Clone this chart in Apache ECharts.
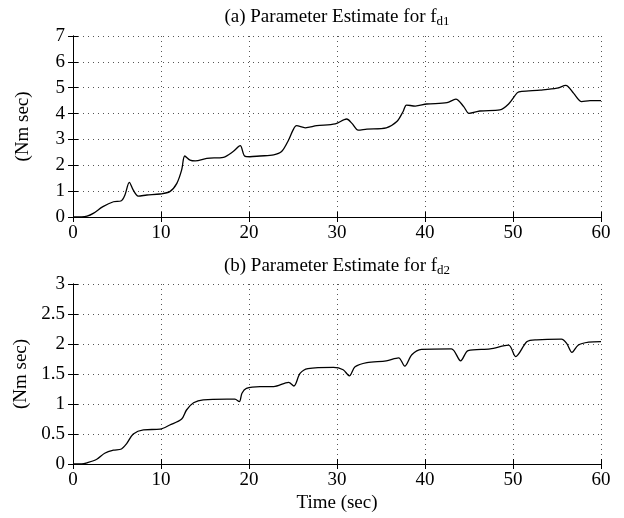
<!DOCTYPE html>
<html>
<head>
<meta charset="utf-8">
<script src="https://cdn.jsdelivr.net/npm/echarts@6/dist/echarts.min.js"></script>
<style>
html,body{margin:0;padding:0;background:#fff;}
#chart{width:624px;height:518px;}
</style>
</head>
<body>
<div id="chart"></div>
<script>
// ---- Data ----
const timeA = [0, 1.0, 1.6, 2.3, 3.4, 4.6, 5.5, 5.9, 6.4, 6.85, 7.4, 8.4, 9.9, 11.0, 11.8, 12.35, 12.7, 13.3, 13.9, 15.2, 17.1, 18.2, 19.0, 19.5, 20.1, 21.25, 22.8, 23.7, 24.5, 25.0, 25.4, 26.4, 27.7, 29.8, 31.1, 31.7, 32.4, 33.4, 35.6, 36.8, 37.5, 37.9, 38.9, 40.2, 42.5, 43.5, 44.4, 45.0, 46.25, 48.5, 49.5, 50.5, 51.0, 53.1, 55.0, 56.0, 56.9, 57.8, 58.75, 60];
const fd1 = [0, 0.0, 0.03, 0.14, 0.40, 0.59, 0.63, 0.85, 1.34, 1.04, 0.81, 0.85, 0.89, 0.98, 1.30, 1.82, 2.36, 2.20, 2.17, 2.27, 2.31, 2.53, 2.76, 2.36, 2.33, 2.36, 2.40, 2.53, 2.98, 3.36, 3.53, 3.45, 3.53, 3.60, 3.79, 3.62, 3.36, 3.40, 3.45, 3.69, 4.07, 4.33, 4.29, 4.37, 4.42, 4.56, 4.27, 4.01, 4.10, 4.14, 4.37, 4.81, 4.86, 4.91, 4.98, 5.09, 4.78, 4.46, 4.50, 4.50];
const timeB = [0, 1.0, 1.6, 2.7, 3.6, 4.6, 5.5, 6.1, 6.85, 8.0, 9.9, 11.0, 12.35, 12.9, 13.7, 14.8, 17.5, 18.4, 18.9, 19.2, 19.7, 21.25, 22.8, 24.5, 25.1, 25.8, 26.7, 29.6, 30.7, 31.4, 32.05, 33.4, 35.6, 37.0, 37.7, 38.5, 39.6, 43.0, 44.05, 44.9, 47.4, 49.5, 50.3, 51.6, 52.7, 55.5, 56.1, 56.7, 57.4, 58.6, 60];
const fd2 = [0, 0.0, 0.02, 0.08, 0.18, 0.23, 0.25, 0.34, 0.50, 0.57, 0.58, 0.65, 0.75, 0.90, 1.02, 1.07, 1.08, 1.08, 1.04, 1.18, 1.26, 1.29, 1.29, 1.36, 1.30, 1.51, 1.59, 1.61, 1.57, 1.47, 1.62, 1.69, 1.72, 1.77, 1.63, 1.82, 1.91, 1.92, 1.72, 1.89, 1.92, 1.98, 1.79, 2.04, 2.07, 2.08, 2.01, 1.86, 1.98, 2.03, 2.04];
const titleA = ['(a) Parameter Estimate for f', 'd1'];
const titleB = ['(b) Parameter Estimate for f', 'd2'];
const yName = '(Nm sec)';
const xName = 'Time (sec)';

const FONT = 'Liberation Serif';
const FS = 19;
const zip = (xs, ys) => xs.map((x, i) => [x, ys[i]]);

const gridLine = {show: true, lineStyle: {color: '#555', type: [1, 4], width: 1}};
const axisLine = {show: true, lineStyle: {color: '#000', width: 1}};
const tick = {show: true, inside: true, length: 5, lineStyle: {color: '#000'}};
const label = {fontFamily: FONT, fontSize: FS, color: '#000'};

function xAxes(gi, withName) {
  return [
    {gridIndex: gi, type: 'value', min: 0, max: 60, interval: 10, position: 'bottom',
     axisLine, axisTick: tick, splitLine: gridLine,
     axisLabel: Object.assign({margin: 7}, label),
     name: withName ? xName : '', nameLocation: 'middle', nameGap: 30,
     nameTextStyle: {fontFamily: FONT, fontSize: FS, color: '#000'}},
    {gridIndex: gi, type: 'value', min: 0, max: 60, interval: 10, position: 'top',
     axisLine, axisTick: tick, splitLine: {show: false}, axisLabel: {show: false}}
  ];
}
function yAxes(gi, max, interval) {
  return [
    {gridIndex: gi, type: 'value', min: 0, max, interval, position: 'left',
     axisLine, axisTick: tick, splitLine: gridLine,
     axisLabel: Object.assign({margin: 8}, label),
     name: yName, nameLocation: 'middle', nameGap: 40,
     nameTextStyle: {fontFamily: FONT, fontSize: FS, color: '#000'}},
    {gridIndex: gi, type: 'value', min: 0, max, interval, position: 'right',
     axisLine, axisTick: tick, splitLine: {show: false}, axisLabel: {show: false}}
  ];
}
function titleText(parts, y) {
  return {
    type: 'text', x: 337, y,
    style: {
      text: '{a|' + parts[0] + '}{s|' + parts[1] + '}',
      align: 'center', verticalAlign: 'middle',
      rich: {
        a: {fontFamily: FONT, fontSize: FS, lineHeight: 22, fill: '#000', color: '#000'},
        s: {fontFamily: FONT, fontSize: 13, lineHeight: 13, verticalAlign: 'bottom', fill: '#000', color: '#000'}
      }
    }
  };
}

const chart = echarts.init(document.getElementById('chart'), null, {renderer: 'canvas'});
chart.setOption({
  backgroundColor: '#fff',
  animation: false,
  grid: [
    {left: 73, right: 23, top: 36, height: 181},
    {left: 73, right: 23, top: 284, height: 180}
  ],
  xAxis: [...xAxes(0, false), ...xAxes(1, true)],
  yAxis: [...yAxes(0, 7, 1), ...yAxes(1, 3, 0.5)],
  graphic: [titleText(titleA, 17), titleText(titleB, 266)],
  series: [
    {type: 'line', xAxisIndex: 0, yAxisIndex: 0, data: zip(timeA, fd1), showSymbol: false,
     smooth: 0.3, lineStyle: {color: '#000', width: 1.3}},
    {type: 'line', xAxisIndex: 2, yAxisIndex: 2, data: zip(timeB, fd2), showSymbol: false,
     smooth: 0.3, lineStyle: {color: '#000', width: 1.3}}
  ]
});
</script>
</body>
</html>
